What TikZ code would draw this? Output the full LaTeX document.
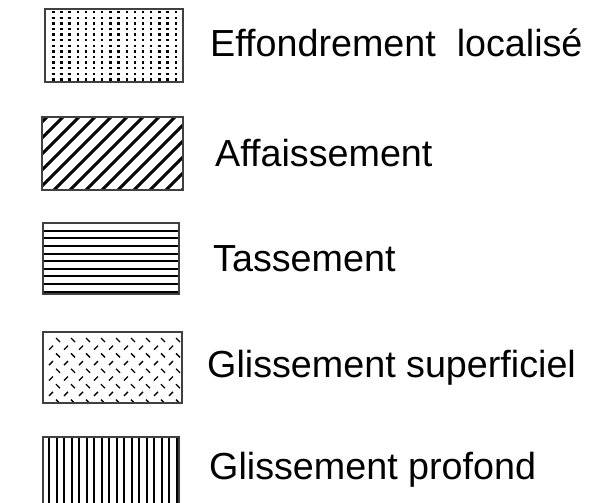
\documentclass[tikz,border=0pt]{standalone}
\usepackage{fontspec}
\setmainfont{Liberation Sans}
\tikzset{
  cadre/.style={draw=black!75, line width=1.2pt},
  trait/.style={black, line width=2pt},
  legende/.style={anchor=base west, inner sep=0pt, font=\fontsize{37.7}{40}\selectfont},
}
\begin{document}
\begin{tikzpicture}[x=1pt, y=-1pt]
    \useasboundingbox (0,0) rectangle (598,503);

     % Effondrement localise : points
    \foreach \i in {0,...,15} {
        \foreach \j in {0,...,12} {
            \fill[black] ({53.3+8.16*\i-1.2},{12.3+5.6*\j-1.2}) rectangle ++(2.4,2.4);
        }
    }
    \draw[cadre] (45,9) rectangle (183,82);

     % Affaissement : hachures obliques
    \begin{scope}
        \clip (42,117) rectangle (183,190);
        \foreach \k in {-1,...,13}
            \draw[black, line width=3pt] ({50+16*\k},114) -- ++(-80,80);
    \end{scope}
    \draw[cadre] (42,117) rectangle (183,190);

     % Tassement : lignes horizontales
    \foreach \k in {0,...,8}
        \draw[trait] (43,{230.7+7.6*\k}) -- (179,{230.7+7.6*\k});
    \draw[cadre] (43,223) rectangle (179,294);

     % Glissement superficiel : tirets croises
    \foreach \i in {0,...,8} {
        \foreach \j in {0,...,4}
            \draw[black, line width=1.3pt] ({58+15*\i-2},{340+15.4*\j-2}) -- ++(4,4);
        \foreach \j in {0,...,3}
            \draw[black, line width=1.3pt] ({51+15*\i-2},{347.7+15.4*\j+2}) -- ++(4,-4);
    }
    \draw[cadre] (43,332) rectangle (182,403);

     % Glissement profond : lignes verticales
    \foreach \k in {0,...,17}
        \draw[trait] ({49+7.5*\k},437) -- ({49+7.5*\k},503);
    \draw[cadre] (43,505) -- (43,437) -- (179,437) -- (179,505);

     % Legendes
    \node[legende] (effondrement) at (210,57) {Effondrement\ \ localisé};
    \node[legende] (affaissement) at (215,167) {Affaissement};
    \node[legende] (tassement) at (213,271) {Tassement};
    \node[legende] (glsup) at (207,377) {Glissement superficiel};
    \node[legende] (glprof) at (209,479) {Glissement profond};
\end{tikzpicture}
\end{document}
